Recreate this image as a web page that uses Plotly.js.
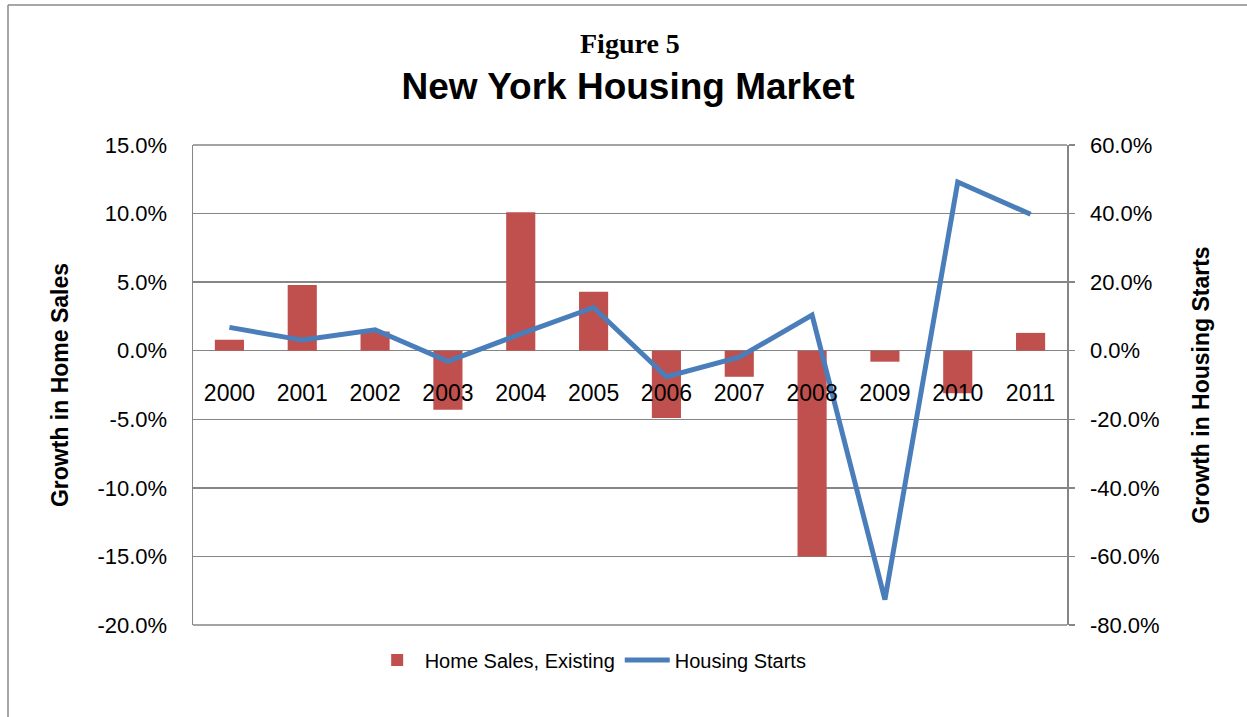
<!DOCTYPE html>
<html>
<head>
<meta charset="utf-8">
<script src="https://cdn.plot.ly/plotly-3.0.1.min.js"></script>
<style>
  html, body { margin: 0; padding: 0; background: #fff; }
  #chart { width: 1247px; height: 717px; }
</style>
</head>
<body>
<div id="chart"></div>
<script>
const years = ['2000','2001','2002','2003','2004','2005','2006','2007','2008','2009','2010','2011'];
const homeSales = [0.8, 4.8, 1.4, -4.3, 10.1, 4.3, -4.9, -1.9, -15.0, -0.8, -3.1, 1.3];
const housingStarts = [6.8, 3.1, 6.1, -3.1, 4.9, 12.6, -7.6, -1.9, 10.4, -72.6, 49.2, 39.8];
const leftTickVals = [15, 10, 5, 0, -5, -10, -15, -20];
const leftTickText = ['15.0%', '10.0%', '5.0%', '0.0%', '-5.0%', '-10.0%', '-15.0%', '-20.0%'];
const rightTickVals = [60, 40, 20, 0, -20, -40, -60, -80];
const rightTickText = ['60.0%', '40.0%', '20.0%', '0.0%', '-20.0%', '-40.0%', '-60.0%', '-80.0%'];

const FONT = 'Liberation Sans, Arial, sans-serif';
const grid = '#868686';

const traces = [
  {
    type: 'bar', name: 'Home Sales, Existing', x: years, y: homeSales,
    marker: { color: '#C0504D' }, yaxis: 'y', xaxis: 'x'
  },
  {
    type: 'scatter', mode: 'lines', name: 'Housing Starts', x: years, y: housingStarts,
    line: { color: '#4A7EBB', width: 5 }, yaxis: 'y2', xaxis: 'x'
  }
];

const layout = {
  width: 1247, height: 717,
  margin: { l: 193, r: 180, t: 145, b: 92 },
  paper_bgcolor: '#fff', plot_bgcolor: '#fff',
  font: { family: FONT, size: 22, color: '#000' },
  bargap: 0.6,
  showlegend: true,
  legend: {
    orientation: 'h', x: 0.455, xanchor: 'center', y: -0.073, yanchor: 'middle',
    font: { family: FONT, size: 20 }, traceorder: 'normal', itemwidth: 45
  },
  title: {
    text: '<b>New York Housing Market</b>',
    font: { family: FONT, size: 37, color: '#000' },
    x: 0.5036, xanchor: 'center', xref: 'container',
    y: 0.880, yanchor: 'middle', yref: 'container'
  },
  annotations: [{
    text: '<b>Figure 5</b>', xref: 'paper', yref: 'paper',
    x: 0.5, y: (625 - 44) / 480, xanchor: 'center', yanchor: 'middle', showarrow: false,
    font: { family: 'Liberation Serif, Times New Roman, serif', size: 28, color: '#000' }
  }],
  xaxis: {
    type: 'category', anchor: 'free', position: (625 - 377) / 480,
    showgrid: false, showline: false, zeroline: false, ticks: '',
    tickfont: { family: FONT, size: 23 }, fixedrange: true
  },
  yaxis: {
    range: [-20, 15], tickvals: leftTickVals, ticktext: leftTickText,
    showgrid: true, gridcolor: grid, gridwidth: 1.5,
    zeroline: false, showline: true, linecolor: grid, linewidth: 1.5,
    ticks: '', ticklabelstandoff: 20,
    tickfont: { family: FONT, size: 22 },
    title: { text: '<b>Growth in Home Sales</b>', font: { family: FONT, size: 23 }, standoff: 22 }
  },
  yaxis2: {
    overlaying: 'y', side: 'right', anchor: 'x',
    range: [-80, 60], tickvals: rightTickVals, ticktext: rightTickText,
    showgrid: false, zeroline: false, showline: true, linecolor: grid, linewidth: 1.5,
    ticks: 'outside', ticklen: 6, tickcolor: grid, tickwidth: 1.5, ticklabelstandoff: 11,
    tickfont: { family: FONT, size: 22 },
    title: { text: '<b>Growth in Housing Starts</b>', font: { family: FONT, size: 23 }, standoff: 34 }
  },
  shapes: [
    { type: 'line', xref: 'paper', yref: 'paper', x0: (8 - 193) / 874, x1: (1247 - 193) / 874,
      y0: (625 - 5) / 480, y1: (625 - 5) / 480, line: { color: '#888', width: 1.5 } },
    { type: 'line', xref: 'paper', yref: 'paper', x0: (8 - 193) / 874, x1: (8 - 193) / 874,
      y0: (625 - 5) / 480, y1: (625 - 717) / 480, line: { color: '#888', width: 1.5 } },
    { type: 'line', xref: 'paper', yref: 'paper', x0: 0, x1: 1, y0: 1, y1: 1,
      line: { color: grid, width: 1.5 } },
    { type: 'line', xref: 'paper', yref: 'paper', x0: 0, x1: 1, y0: 0, y1: 0,
      line: { color: grid, width: 1.5 } }
  ]
};

Plotly.newPlot('chart', traces, layout, { displayModeBar: false, staticPlot: true });
</script>
</body>
</html>
